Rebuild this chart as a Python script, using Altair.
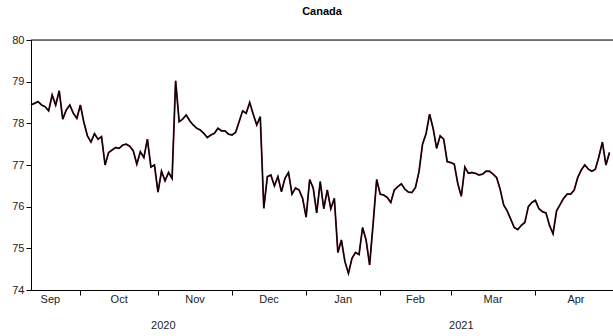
import altair as alt
import pandas as pd

values = [
    78.44, 78.48, 78.52, 78.44, 78.40, 78.30, 78.68, 78.44, 78.78, 78.10,
    78.32, 78.44, 78.24, 78.12, 78.44, 78.02, 77.70, 77.55, 77.75, 77.62,
    77.68, 77.00, 77.30, 77.36, 77.42, 77.40, 77.48, 77.50, 77.45, 77.34,
    77.02, 77.32, 77.18, 77.62, 76.95, 77.00, 76.35, 76.85, 76.62, 76.82,
    76.68, 79.02, 78.04, 78.10, 78.20, 78.06, 77.96, 77.88, 77.84, 77.76,
    77.66, 77.72, 77.76, 77.88, 77.82, 77.82, 77.74, 77.72, 77.78, 78.04,
    78.30, 78.24, 78.50, 78.22, 77.96, 78.16, 75.96, 76.72, 76.76, 76.50,
    76.72, 76.36, 76.68, 76.82, 76.30, 76.45, 76.40, 76.20, 75.75, 76.65,
    76.45, 75.85, 76.60, 75.95, 76.40, 75.95, 76.20, 74.90, 75.20, 74.68,
    74.40, 74.76, 74.90, 74.85, 75.50, 75.20, 74.60, 75.60, 76.65, 76.30,
    76.28, 76.22, 76.10, 76.40, 76.48, 76.55, 76.42, 76.35, 76.34, 76.46,
    76.84, 77.50, 77.75, 78.22, 77.88, 77.40, 77.70, 77.62, 77.08, 77.06,
    77.02, 76.55, 76.25, 76.95, 76.80, 76.82, 76.80, 76.76, 76.78, 76.85,
    76.85, 76.78, 76.70, 76.42, 76.04, 75.90, 75.70, 75.50, 75.45, 75.55,
    75.62, 76.00, 76.10, 76.15, 75.95, 75.88, 75.85, 75.55, 75.35, 75.90,
    76.05, 76.20, 76.30, 76.30, 76.40, 76.70, 76.88, 77.00, 76.90, 76.85,
    76.90, 77.20, 77.55, 77.00, 77.30,
]

months = ["Sep", "Oct", "Nov", "Dec", "Jan", "Feb", "Mar", "Apr"]
month_start_obs = [-3, 14, 36, 57, 78, 99, 119, 143]
month_end_obs = 166
years = ["2020", "2021"]
year_start_month = [0, 4]
y_ticks = [74, 75, 76, 77, 78, 79, 80]

FONT = "Liberation Sans"
W, H = 582, 250
n_obs = 165

df = pd.DataFrame({"obs": list(range(len(values))), "value": values})

ends = month_start_obs[1:] + [month_end_obs]
mdf = pd.DataFrame({
    "label": months,
    "mid": [(s + e) / 2 for s, e in zip(month_start_obs, ends)],
})
ystarts = [month_start_obs[i] for i in year_start_month]
yends = ystarts[1:] + [month_end_obs]
ydf = pd.DataFrame({"label": years, "mid": [(s + e) / 2 for s, e in zip(ystarts, yends)]})

xscale = alt.Scale(domain=[0, n_obs], nice=False, zero=False)
yscale = alt.Scale(domain=[74, 80], nice=False, zero=False)

xaxis = alt.Axis(values=month_start_obs[1:], labels=False, title=None, grid=False,
                 tickSize=5, domainColor="black", tickColor="black")
yaxis = alt.Axis(values=y_ticks, title=None, grid=False, tickSize=5, labelPadding=2,
                 labelFontSize=11, labelFont=FONT, labelColor="#222222",
                 domainColor="black", tickColor="black")

base = alt.Chart(df)
under = base.mark_line(color="#6b1535", strokeWidth=1.8).encode(
    x=alt.X("obs:Q", scale=xscale, axis=xaxis),
    y=alt.Y("value:Q", scale=yscale, axis=yaxis),
)
over = base.mark_line(color="black", strokeWidth=1.1).encode(
    x=alt.X("obs:Q", scale=xscale),
    y=alt.Y("value:Q", scale=yscale),
)

top_rule = alt.Chart(pd.DataFrame({"v": [80]})).mark_rule(color="black", strokeWidth=1).encode(
    y=alt.Y("v:Q", scale=yscale)
)

mtext = alt.Chart(mdf).mark_text(font=FONT, fontSize=11, color="#222222", baseline="middle").encode(
    x=alt.X("mid:Q", scale=xscale), y=alt.value(H + 10), text="label:N"
)
ytext = alt.Chart(ydf).mark_text(font=FONT, fontSize=11, color="#222222", baseline="middle").encode(
    x=alt.X("mid:Q", scale=xscale), y=alt.value(H + 36), text="label:N"
)

chart = alt.layer(under, over, top_rule, mtext, ytext).properties(
    width=W, height=H,
    title=alt.TitleParams("Canada", font=FONT, fontSize=11, fontWeight="bold",
                          anchor="middle", offset=17, color="black"),
    autosize=alt.AutoSizeParams(type="none"),
    padding={"left": 31, "top": 40, "right": 0, "bottom": 46},
).configure_view(stroke=None).configure(background="white")

chart.save("out.html", embed_options={"renderer": "svg", "actions": False})
